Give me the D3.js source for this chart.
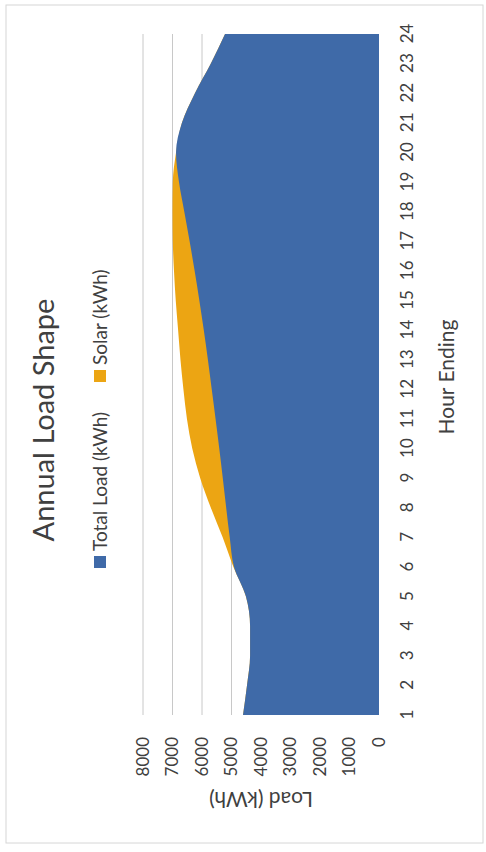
<!DOCTYPE html>
<html>
<head>
<meta charset="utf-8">
<script src="https://cdn.jsdelivr.net/npm/d3@7"></script>
<style>
  html, body { margin: 0; padding: 0; background: #ffffff; }
  svg { display: block; }
  text { font-family: Lato, "Open Sans", sans-serif; fill: #404040; }
</style>
</head>
<body>
<svg id="chart" width="486" height="852"></svg>
<script>
// Hour-ending categories
const hours = ["1","2","3","4","5","6","7","8","9","10","11","12",
               "13","14","15","16","17","18","19","20","21","22","23","24"];

// Load served from the grid (kWh) per hour
const totalLoad = [4610, 4475, 4370, 4370, 4510, 4915, 5060, 5180, 5295, 5415, 5540, 5670,
                   5800, 5940, 6090, 6250, 6420, 6600, 6780, 6880, 6680, 6240, 5700, 5220];

// Solar production (kWh) per hour
const solar = [0, 0, 0, 0, 0, 20, 240, 520, 765, 915, 970, 960,
               930, 870, 800, 700, 570, 400, 210, 0, 0, 0, 0, 0];

// Value axis ticks
const loadTicks = [0, 1000, 2000, 3000, 4000, 5000, 6000, 7000, 8000];

const seriesNames = ["Total Load (kWh)", "Solar (kWh)"];
const seriesColors = ["#3f6aa8", "#eca513"];

const svg = d3.select("#chart");
// chart is laid out landscape (852 wide, 486 tall) and turned onto the portrait page
const g = svg.append("g").attr("transform", `translate(0,${852}) rotate(-90)`);

// chart border
g.append("rect")
  .attr("x", 9).attr("y", 6).attr("width", 838).attr("height", 477)
  .attr("fill", "#ffffff").attr("stroke", "#d6d6d6").attr("stroke-width", 1);

const x = d3.scalePoint().domain(hours).range([137, 818]);
const y = d3.scaleLinear().domain([0, 8000]).range([379, 143]);

// gridlines
g.append("g").selectAll("line").data(loadTicks.filter(d => d > 0)).join("line")
  .attr("x1", x.range()[0]).attr("x2", x.range()[1])
  .attr("y1", d => y(d)).attr("y2", d => y(d))
  .attr("stroke", "#c8c8c8").attr("stroke-width", 1);

// stacked areas
const rows = hours.map((h, i) => ({ hour: h, load: totalLoad[i], solar: solar[i] }));
const stacked = d3.stack().keys(["load", "solar"])(rows);

const area = d3.area()
  .x(d => x(d.data.hour))
  .y0(y(0))
  .y1(d => y(d[1]))
  .curve(d3.curveMonotoneX);

// solar on top of load: draw the full stack behind, load in front
g.append("path").datum(stacked[1]).attr("d", area).attr("fill", seriesColors[1]);
g.append("path").datum(stacked[0]).attr("d", area).attr("fill", seriesColors[0]);

// category axis
const xAxis = g.append("g").attr("transform", `translate(0,${y(0)})`)
  .call(d3.axisBottom(x).tickSize(0).tickPadding(22));
xAxis.select(".domain").remove();
xAxis.selectAll("text").style("font-size", "17px").style("font-family", "Lato, sans-serif").attr("fill", "#404040");

// value axis
const yAxis = g.append("g").attr("transform", `translate(${x.range()[0]},0)`)
  .call(d3.axisLeft(y).tickValues(loadTicks).tickFormat(d3.format("d")).tickSize(0).tickPadding(22));
yAxis.select(".domain").remove();
yAxis.selectAll("text").style("font-size", "17px").style("font-family", "Lato, sans-serif").attr("fill", "#404040");

// title
g.append("text")
  .attr("x", 432).attr("y", 54)
  .attr("text-anchor", "middle")
  .style("font-size", "29px")
  .text("Annual Load Shape");

// legend
const legendItems = [
  { name: seriesNames[0], color: seriesColors[0], x: 284 },
  { name: seriesNames[1], color: seriesColors[1], x: 470 }
];
const lg = g.append("g");
legendItems.forEach(it => {
  lg.append("rect").attr("x", it.x).attr("y", 94).attr("width", 12).attr("height", 12).attr("fill", it.color);
  lg.append("text").attr("x", it.x + 17).attr("y", 100).attr("dy", "0.35em")
    .style("font-size", "19px").text(it.name);
});

// axis titles
g.append("text")
  .attr("x", 475).attr("y", 454)
  .attr("text-anchor", "middle")
  .style("font-size", "21px")
  .text("Hour Ending");

g.append("text")
  .attr("transform", `translate(60,${(y(0) + y(8000)) / 2}) rotate(-90)`)
  .attr("text-anchor", "middle")
  .style("font-size", "21px")
  .text("Load (kWh)");
</script>
</body>
</html>
